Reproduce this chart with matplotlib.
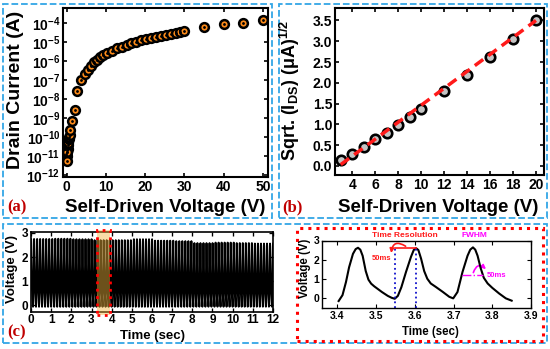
import matplotlib.pyplot as plt
import matplotlib.patches as mpatches
import numpy as np

plt.rcParams['font.family'] = ['Liberation Sans', 'DejaVu Sans']
plt.rcParams['font.weight'] = 'bold'
plt.rcParams['mathtext.fontset'] = 'custom'
plt.rcParams['mathtext.rm'] = 'Liberation Sans:bold'
plt.rcParams['mathtext.it'] = 'Liberation Sans:bold'
plt.rcParams['mathtext.bf'] = 'Liberation Sans:bold'
plt.rcParams['xtick.direction'] = 'in'
plt.rcParams['ytick.direction'] = 'in'

# (a) drain current vs self-driven voltage
a_volt = [-0.4, -0.3, -0.2, -0.1, 0.0, 0.1, 0.2, 0.3, 0.4, 0.5, 0.6, 0.7, 0.8,
          0.0, 0.15, 0.85, 1.5, 2.1,
          2.7, 3.7, 4.7, 5.5, 6.3, 7.0, 7.7, 8.5, 9.4, 10.3, 11.5, 12.8, 14.0,
          15.3, 16.5, 17.8, 19.0, 20.3, 21.5, 22.8, 24.0, 25.3, 26.5, 27.8,
          29.0, 30.0, 35, 40, 45, 50]
a_logI = [-10.6, -10.4, -10.5, -10.9, -10.7, -11.0, -10.8, -10.6, -10.4, -10.3, -10.1, -10.0, -9.9,
          -11.25, -10.8, -9.65, -9.15, -8.55,
          -7.55, -7.0, -6.68, -6.48, -6.25, -6.05, -5.92, -5.8, -5.68, -5.58, -5.45, -5.33, -5.23,
          -5.13, -5.05, -4.97, -4.9, -4.83, -4.77, -4.71, -4.65, -4.6, -4.55, -4.5,
          -4.45, -4.4, -4.22, -4.05, -3.97, -3.83]

# (b) sqrt(I_DS) vs voltage
b_volt = [3, 4, 5, 6, 7, 8, 9, 10, 12, 14, 16, 18, 20]
b_sqrt = [0.15, 0.28, 0.46, 0.64, 0.8, 0.98, 1.18, 1.38, 1.8, 2.18, 2.63, 3.06, 3.52]
fit_x = [3, 20]
fit_y = [0.03, 3.5]

# (d) zoomed waveform
d_t = [3.403, 3.413, 3.422, 3.430, 3.440, 3.447, 3.453, 3.459, 3.465, 3.473, 3.480,
       3.487, 3.495, 3.505, 3.515, 3.530, 3.540, 3.548, 3.556, 3.565, 3.577, 3.590,
       3.597, 3.603, 3.609, 3.616, 3.624, 3.632, 3.641, 3.654, 3.672, 3.689, 3.699,
       3.710, 3.723, 3.736, 3.743, 3.750, 3.756, 3.762, 3.770, 3.778, 3.788, 3.800,
       3.818, 3.835, 3.850]
d_v = [-0.17, 0.14, 0.83, 1.60, 2.30, 2.55, 2.62, 2.52, 2.20, 1.40, 0.95,
       0.74, 0.60, 0.45, 0.30, 0.10, 0.00, -0.05, 0.10, 0.55, 1.35, 2.15,
       2.50, 2.60, 2.50, 2.05, 1.40, 1.00, 0.75, 0.57, 0.31, 0.05, -0.03,
       0.30, 1.35, 2.20, 2.52, 2.64, 2.52, 2.20, 1.55, 1.05, 0.75, 0.52,
       0.22, -0.03, -0.15]

# (c) peak envelope per second of the long recording
c_sec = [0, 1, 2, 3, 4, 5, 6, 7, 8, 9, 10, 11, 12]
c_peak = [2.75, 2.76, 2.74, 2.70, 2.70, 2.74, 2.68, 2.66, 2.58, 2.60, 2.58, 2.56, 2.58]
period = 0.15

W, H = 550, 349
fig = plt.figure(figsize=(W / 100, H / 100), dpi=100)


def px(x0, y0, x1, y1):
    return [x0 / W, 1 - y1 / H, (x1 - x0) / W, (y1 - y0) / H]


def style(ax, lw=1.5, size=9):
    for s in ax.spines.values():
        s.set_linewidth(lw)
    ax.tick_params(which='both', top=True, right=True, width=lw * 0.8,
                   length=3, labelsize=size, pad=2)
    ax.minorticks_off()


# ---------- (a)
ax_a = fig.add_axes(px(63, 8, 268, 177))
ax_a.semilogy(a_volt, 10.0 ** np.array(a_logI), 'o', ms=6.3, mfc='#FF8C1A',
              mec='black', mew=1.8)
ax_a.semilogy(a_volt, 10.0 ** np.array(a_logI), '.', ms=2, color='black')
ax_a.set_xlim(-0.9, 51.3)
ax_a.set_ylim(10 ** -12.1, 10 ** -3.2)
ax_a.set_yticks([10.0 ** k for k in range(-12, -3)])
ax_a.set_xticks([0, 10, 20, 30, 40, 50])
style(ax_a, size=10)
ax_a.minorticks_off()
fig.text(16 / W, 1 - 90 / H, 'Drain Current (A)', rotation=90, fontsize=14,
         ha='center', va='center')
fig.text(165 / W, 1 - 207 / H, 'Self-Driven Voltage (V)', fontsize=13.5,
         ha='center', va='center')

# ---------- (b)
ax_b = fig.add_axes(px(335, 8, 544, 175))
ax_b.plot(b_volt, b_sqrt, 'o', ms=6.8, mfc='#C4C4C4', mec='black', mew=1.9)
ax_b.plot(fit_x, fit_y, '--', color='#FF1A1A', lw=2.5, dashes=(3, 1.8))
ax_b.set_xlim(2.5, 20.7)
ax_b.set_ylim(-0.22, 3.8)
ax_b.set_xticks(range(4, 21, 2))
ax_b.set_yticks(np.arange(0, 3.6, 0.5))
ax_b.yaxis.set_major_formatter(plt.FormatStrFormatter('%.1f'))
style(ax_b, size=10)
fig.text(290 / W, 1 - 90 / H, 'Sqrt. (I$_{DS}$) (μA)$^{1/2}$', rotation=90,
         fontsize=13, ha='center', va='center')
fig.text(438 / W, 1 - 207 / H, 'Self-Driven Voltage (V)', fontsize=13.5,
         ha='center', va='center')

# ---------- (c)
i0 = d_t.index(3.548)
i1 = d_t.index(3.699)
cyc_phase = np.array(d_t[i0:i1]) - d_t[i0]
cyc_v = np.array(d_v[i0:i1])
offset = d_t[i0] % period
c_t, c_v = [], []
for k in range(-1, 81):
    t0 = offset + k * period
    sec = min(max(int(t0), 0), 12)
    c_t.extend(t0 + cyc_phase)
    c_v.extend(cyc_v * c_peak[c_sec.index(sec)] / 2.6)

ax_c = fig.add_axes(px(31, 232, 273, 311.5))
ax_c.plot(c_t, c_v, color='black', lw=1.4)
ax_c.set_xlim(0, 12)
ax_c.set_ylim(-0.25, 3.04)
ax_c.set_xticks(range(0, 13))
ax_c.set_yticks([0, 1, 2, 3])
style(ax_c, lw=1.2, size=8.5)
ax_c.add_patch(mpatches.Rectangle((3.28, -0.39), 0.64, 3.5, facecolor='#F2B43C',
                                  alpha=0.45, edgecolor='none', clip_on=False,
                                  zorder=3))
ax_c.add_patch(mpatches.Rectangle((3.28, -0.39), 0.64, 3.5, fill=False,
                                  edgecolor='#FF0000', lw=2, ls=':', clip_on=False,
                                  zorder=4))
fig.text(12 / W, 1 - 269 / H, 'Voltage (V)', rotation=90, fontsize=9.5,
         ha='center', va='center')
fig.text(152 / W, 1 - 336 / H, 'Time (sec)', fontsize=9.5, ha='center', va='center')

# ---------- (d)
ax_d = fig.add_axes(px(322, 240.5, 531, 308.3))
ax_d.plot(d_t, d_v, color='black', lw=1.5)
ax_d.set_xlim(3.36, 3.9)
ax_d.set_ylim(-0.55, 3.0)
ax_d.set_xticks([3.4, 3.5, 3.6, 3.7, 3.8, 3.9])
ax_d.set_yticks([0, 1, 2, 3])
style(ax_d, lw=1.0, size=7.5)
ax_d.vlines([3.548, 3.603], -0.55, 2.7, colors='#1010CC', linestyles=':', lw=1.3)
ax_d.plot([3.548, 3.603], [2.6, 2.6], color='#FF1A1A', lw=1.2)
ax_d.add_patch(mpatches.FancyArrowPatch((3.582, 2.62), (3.538, 2.2),
                                        connectionstyle='arc3,rad=0.9',
                                        arrowstyle='-|>', mutation_scale=6,
                                        color='#FF1A1A', lw=1.2, clip_on=False))
ax_d.text(3.514, 2.05, '50ms', color='#FF1A1A', fontsize=5.5, ha='center', va='center')
ax_d.text(3.575, 3.26, 'Time Resolution', color='#FF1A1A', fontsize=6,
          ha='center', va='center')
ax_d.plot([3.723, 3.775], [1.18, 1.18], color='#FF00FF', lw=1, ls='-.')
ax_d.add_patch(mpatches.FancyArrowPatch((3.749, 1.18), (3.789, 1.4),
                                        connectionstyle='arc3,rad=-0.9',
                                        arrowstyle='-|>', mutation_scale=6,
                                        color='#FF00FF', lw=1.2))
ax_d.text(3.81, 1.18, '50ms', color='#FF00FF', fontsize=5.5, ha='center', va='center')
ax_d.text(3.754, 3.26, 'FWHM', color='#FF00FF', fontsize=6, ha='center', va='center')
fig.text(305 / W, 1 - 268 / H, 'Voltage (V)', rotation=90, fontsize=8.3,
         ha='center', va='center')
fig.text(430 / W, 1 - 331.5 / H, 'Time (sec)', fontsize=8.3, ha='center', va='center')

# ---------- frames and panel letters
blue = '#33A6E6'
for (x0, y0, x1, y1) in [(3, 4, 272, 218), (279, 4, 547, 218), (3, 224, 547, 343)]:
    fig.add_artist(mpatches.Rectangle((x0 / W, 1 - y1 / H), (x1 - x0) / W, (y1 - y0) / H,
                                      transform=fig.transFigure, fill=False,
                                      edgecolor=blue, lw=1.3, ls='--'))
fig.add_artist(mpatches.Rectangle((297 / W, 1 - 341 / H), 246 / W, 113 / H,
                                  transform=fig.transFigure, fill=False,
                                  edgecolor='#FF0000', lw=2.2, ls=':'))
for lab, x, y in [('(a)', 17, 207), ('(b)', 292, 207), ('(c)', 17, 332)]:
    fig.text(x / W, 1 - y / H, lab, color='#C00000', fontsize=12,
             family='Liberation Serif', weight='bold', ha='center', va='center')

fig.savefig('out.png', dpi=100)
